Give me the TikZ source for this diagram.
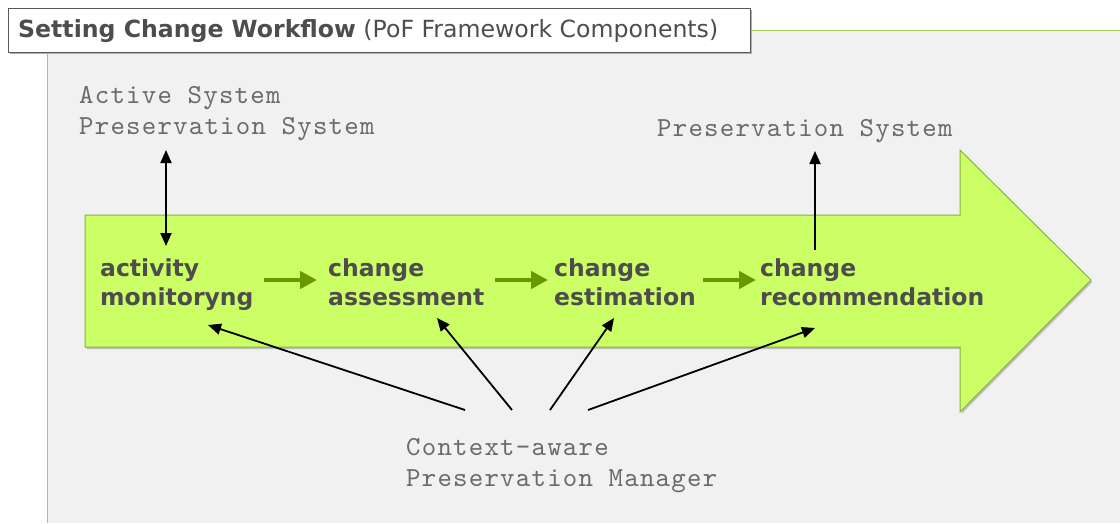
\documentclass[tikz,border=0pt]{standalone}
\usepackage{fontspec}
\setmainfont{DejaVu Sans}
\newfontfamily\monof[LetterSpace=4.5]{lmmono10-regular.otf}
\usetikzlibrary{arrows.meta}
\definecolor{panelbg}{HTML}{F1F1F1}
\definecolor{limefill}{HTML}{CCFF66}
\definecolor{limeborder}{HTML}{88B535}
\definecolor{flowgreen}{HTML}{669900}
\definecolor{labelgray}{HTML}{4D4D4D}
\definecolor{monogray}{HTML}{6A6A6A}
\definecolor{frameline}{HTML}{A6CE5A}
\begin{document}
\begin{tikzpicture}[x=1pt,y=-1pt,
  stage/.style={anchor=base west, font=\bfseries\fontsize{23.5}{29}\selectfont, text=labelgray, align=left, inner sep=0pt},
  monotext/.style={anchor=base west, font=\monof\fontsize{27.5}{31}\selectfont, text=monogray, align=left, inner sep=0pt},
  flow/.style={draw=flowgreen, line width=4.5pt, -{Triangle[length=17pt,width=17pt]}},
  link/.style={draw=black, line width=1.8pt, -{Triangle[length=13pt,width=11pt]}},
  dlink/.style={draw=black, line width=1.8pt, {Triangle[length=13pt,width=11pt]}-{Triangle[length=13pt,width=11pt]}}
]
\useasboundingbox (0,0) rectangle (1120,523);
\fill[white] (0,0) rectangle (1120,523);
% panel
\fill[panelbg] (47,30) rectangle (1120,523);
\draw[frameline, line width=1pt] (47,523) -- (47,30) -- (1120,30);
% title box
\fill[black!30] (9.5,9.5) rectangle (751.5,53.5);
\draw[fill=white, draw=black!65, line width=1pt] (8,8) rectangle (750,52);
\node[anchor=base west, inner sep=0pt, text=labelgray, font=\fontsize{23.6}{28}\selectfont] (title) at (18,37) {\textbf{Setting Change Workflow} (PoF Framework Components)};
% big arrow
\fill[black!25] (86.5,217) -- (961.5,217) -- (961.5,152) -- (1092.5,282) -- (961.5,414) -- (961.5,349) -- (86.5,349) -- cycle;
\draw[fill=limefill, draw=limeborder, line width=1pt] (85,215) -- (960,215) -- (960,150) -- (1091,280) -- (960,412) -- (960,347) -- (85,347) -- cycle;
% stage labels (anchor = baseline of last line)
\node[stage] (act) at (100,305) {activity\\monitoryng};
\node[stage] (ass) at (328,305) {change\\assessment};
\node[stage] (est) at (554,305) {change\\estimation};
\node[stage] (rec) at (760,305) {change\\recommendation};
% flow arrows
\coordinate (f1a) at (264,280); \coordinate (f1b) at (317,280);
\coordinate (f2a) at (495,280); \coordinate (f2b) at (548,280);
\coordinate (f3a) at (703,280); \coordinate (f3b) at (756,280);
\draw[flow] (f1a) -- (f1b);
\draw[flow] (f2a) -- (f2b);
\draw[flow] (f3a) -- (f3b);
% mono texts
\node[monotext] (asys) at (79,134) {Active System\\Preservation System};
\node[monotext] (psys) at (657,136) {Preservation System};
\node[monotext] (cam) at (406,486) {Context-aware\\Preservation Manager};
% black connectors
\coordinate (asTop) at (166,150); \coordinate (asBot) at (166,246);
\draw[dlink] (asTop) -- (asBot);
\coordinate (recTop) at (815,250); \coordinate (psBot) at (815,151);
\draw[link] (recTop) -- (psBot);
\coordinate (c1) at (465,410); \coordinate (t1) at (208,325);
\coordinate (c2) at (512,410); \coordinate (t2) at (437,318);
\coordinate (c3) at (550,410); \coordinate (t3) at (614,318);
\coordinate (c4) at (588,410); \coordinate (t4) at (815,328);
\draw[link] (c1) -- (t1);
\draw[link] (c2) -- (t2);
\draw[link] (c3) -- (t3);
\draw[link] (c4) -- (t4);
\end{tikzpicture}
\end{document}
